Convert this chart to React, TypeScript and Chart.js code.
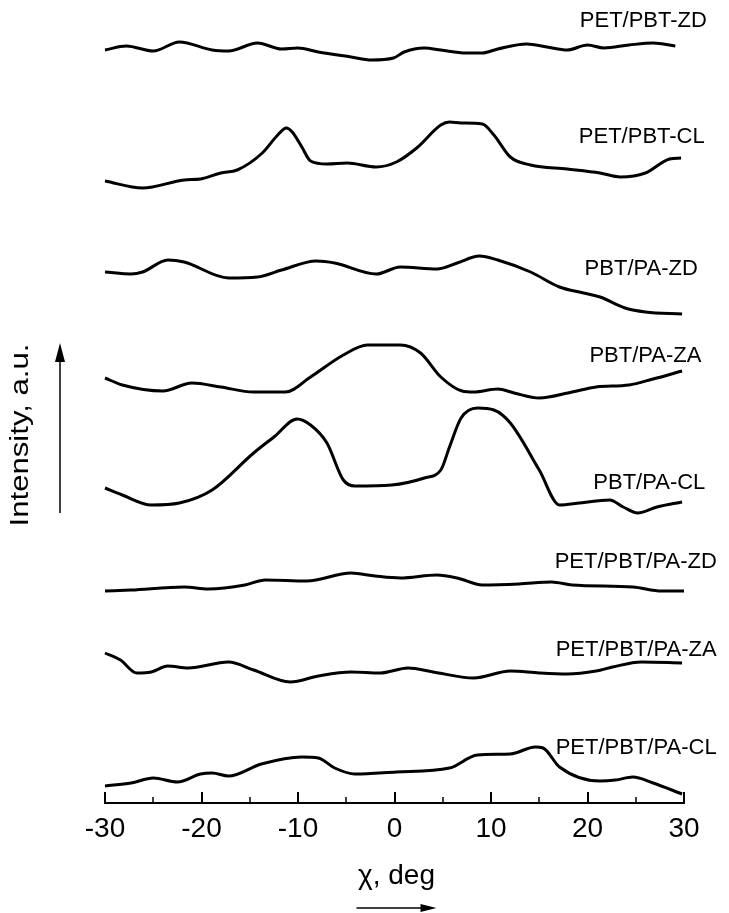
import React, { useEffect, useRef } from "react";
import { Chart, registerables } from "chart.js";

Chart.register(...registerables);

// ---- Axis / text ----
const X_MAJOR_TICKS = [-30, -20, -10, 0, 10, 20, 30];
const X_MINOR_TICKS = [-25, -15, -5, 5, 15, 25];
const X_TITLE = "χ, deg";
const Y_TITLE = "Intensity, a.u.";

const SERIES_NAMES = [
  "PET/PBT-ZD",
  "PET/PBT-CL",
  "PBT/PA-ZD",
  "PBT/PA-ZA",
  "PBT/PA-CL",
  "PET/PBT/PA-ZD",
  "PET/PBT/PA-ZA",
  "PET/PBT/PA-CL",
];

// ---- Series data (chi in deg, intensity in a.u., curves stacked with offsets) ----
const PETPBT_ZD_CHI = [-30, -27.8, -25, -22.3, -18.9, -17.2, -14.2, -11.7, -10, -7.9, -4.5, -2.4, -0.1, 1.0, 3.1, 4.8, 7.4, 9.1, 10.7, 13.7, 15.8, 17.9, 20, 21.7, 24.3, 26.8, 29.1];
const PETPBT_ZD_I = [753, 757, 752, 761, 753, 752, 760, 754, 755, 751, 746, 743, 745, 751, 755, 753, 750, 750, 754, 759, 756, 753, 758, 755, 758, 760, 757];

const PETPBT_CL_CHI = [-30, -26.1, -21.8, -20.1, -18, -16.3, -13.7, -12.1, -11.2, -10.6, -9.6, -8.7, -7.0, -4.9, -1.9, 0.2, 2.3, 4.8, 5.7, 6.9, 9.1, 10.3, 12.0, 14.1, 17.9, 21.3, 23.4, 26.0, 28.5, 29.7];
const PETPBT_CL_I = [622, 615, 623, 624, 630, 633, 650, 668, 675, 671, 656, 642, 639, 640, 636, 641, 655, 678, 681, 680, 679, 668, 646, 638, 634, 630, 626, 630, 644, 645];

const PBTPA_ZD_CHI = [-30, -27.3, -26.1, -23.5, -21.8, -17.2, -14.2, -11.7, -8.1, -6.2, -1.9, 0.6, 4.4, 6.5, 8.8, 10.7, 14.1, 17.1, 19.6, 21.3, 23.9, 26.0, 29.8];
const PBTPA_ZD_I = [531, 529, 531, 543, 541, 525, 526, 533, 542, 540, 529, 536, 534, 540, 547, 543, 531, 516, 510, 506, 495, 491, 489];

const PBTPA_ZA_CHI = [-30, -28.2, -24, -21, -18, -14.6, -11.3, -8.7, -5.3, -2.8, 0.6, 2.7, 4.8, 7.0, 8.2, 10.7, 12.4, 15.0, 18.4, 20.9, 24.3, 26.8, 29.8];
const PBTPA_ZA_I = [425, 418, 412, 420, 416, 411, 411, 426, 448, 458, 458, 450, 426, 412, 411, 414, 410, 405, 411, 416, 418, 424, 432];

const PBTPA_CL_CHI = [-30, -28.2, -25.2, -22.3, -18.9, -14.6, -12.5, -10.1, -8.7, -7.0, -5.3, -4.1, -0.3, 3.1, 4.8, 5.7, 6.9, 8.6, 10.3, 12.0, 15.0, 17.1, 19.2, 22.3, 23.7, 25.2, 27.2, 29.8];
const PBTPA_CL_I = [315, 308, 298, 300, 313, 350, 366, 384, 378, 360, 323, 317, 318, 325, 333, 356, 385, 395, 393, 380, 333, 298, 300, 303, 296, 290, 296, 301];

const PETPBTPA_ZD_CHI = [-30, -27.3, -21.8, -19.3, -15.5, -13.4, -9.1, -4.5, -2.0, 0.6, 4.4, 6.5, 9.1, 12.9, 16.3, 18.4, 24.7, 27.7, 30];
const PETPBTPA_ZD_I = [212, 213, 216, 214, 218, 223, 222, 230, 227, 225, 228, 225, 218, 219, 221, 218, 216, 212, 212];

const PETPBTPA_ZA_CHI = [-30, -28.4, -26.7, -25.2, -23.5, -21.4, -17.2, -14.6, -10.8, -7.9, -4.5, -1.5, 1.4, 4.0, 8.2, 12.0, 15.0, 17.9, 20.9, 22.6, 25.6, 29.8];
const PETPBTPA_ZA_I = [150, 143, 130, 131, 137, 135, 141, 133, 121, 127, 131, 130, 135, 131, 125, 132, 130, 129, 132, 136, 141, 140];

const PETPBTPA_CL_CHI = [-30, -27.3, -25, -22.5, -20.1, -18.9, -17.2, -13.8, -9.6, -7.9, -6.2, -4.1, 0.2, 5.7, 8.6, 12.0, 14.6, 15.4, 17.1, 21.3, 22.9, 24.7, 26.8, 29.8];
const PETPBTPA_CL_I = [17, 20, 25, 21, 29, 30, 27, 39, 46, 45, 35, 29, 31, 35, 48, 49, 56, 55, 36, 22, 23, 26, 20, 9];

const SERIES_CHI = [PETPBT_ZD_CHI, PETPBT_CL_CHI, PBTPA_ZD_CHI, PBTPA_ZA_CHI, PBTPA_CL_CHI, PETPBTPA_ZD_CHI, PETPBTPA_ZA_CHI, PETPBTPA_CL_CHI];
const SERIES_I = [PETPBT_ZD_I, PETPBT_CL_I, PBTPA_ZD_I, PBTPA_ZA_I, PBTPA_CL_I, PETPBTPA_ZD_I, PETPBTPA_ZA_I, PETPBTPA_CL_I];

// ---- Layout (label anchors in data coordinates: left edge, vertical middle) ----
const LABEL_CHI = [19.2, 19.1, 19.7, 20.2, 20.6, 16.6, 16.7, 16.7];
const LABEL_I = [782, 666, 534, 447, 320, 241, 153, 55];

const Y_MIN = 0;
const Y_MAX = 803;
const X_MIN = -30;
const X_MAX = 30;

const FONT = "'Liberation Sans', Arial, Helvetica, sans-serif";

const decorPlugin = {
  id: "decor",
  afterDraw(chart: any) {
    const ctx = chart.ctx as CanvasRenderingContext2D;
    const xs = chart.scales.x;
    const ys = chart.scales.y;
    const y0 = ys.getPixelForValue(0);
    const xl = xs.getPixelForValue(X_MIN);
    const xr = xs.getPixelForValue(X_MAX);
    ctx.save();
    ctx.strokeStyle = "#000";
    ctx.fillStyle = "#000";
    // axis line
    ctx.lineWidth = 2;
    ctx.beginPath();
    ctx.moveTo(xl - 1, y0);
    ctx.lineTo(xr + 1, y0);
    ctx.stroke();
    // ticks (inward)
    ctx.lineWidth = 2;
    X_MAJOR_TICKS.forEach((v) => {
      const px = Math.round(xs.getPixelForValue(v));
      ctx.beginPath();
      ctx.moveTo(px, y0);
      ctx.lineTo(px, y0 - 11);
      ctx.stroke();
    });
    ctx.lineWidth = 1.5;
    X_MINOR_TICKS.forEach((v) => {
      const px = Math.round(xs.getPixelForValue(v));
      ctx.beginPath();
      ctx.moveTo(px, y0);
      ctx.lineTo(px, y0 - 6);
      ctx.stroke();
    });
    // tick labels
    ctx.font = `28px ${FONT}`;
    ctx.textAlign = "center";
    ctx.textBaseline = "alphabetic";
    X_MAJOR_TICKS.forEach((v) => {
      ctx.fillText(String(v), xs.getPixelForValue(v), y0 + 34);
    });
    // x title + arrow
    const cx = (xl + xr) / 2;
    ctx.fillText(X_TITLE, cx + 2, y0 + 81);
    const ay = y0 + 105;
    ctx.lineWidth = 1.5;
    ctx.beginPath();
    ctx.moveTo(cx - 38, ay);
    ctx.lineTo(cx + 30, ay);
    ctx.stroke();
    ctx.beginPath();
    ctx.moveTo(cx + 42, ay);
    ctx.lineTo(cx + 26, ay - 4);
    ctx.lineTo(cx + 26, ay + 4);
    ctx.closePath();
    ctx.fill();
    // y title (rotated) + arrow
    ctx.save();
    ctx.translate(xl - 84, 435);
    ctx.rotate(-Math.PI / 2);
    ctx.font = `25px ${FONT}`;
    const w = ctx.measureText(Y_TITLE).width;
    ctx.scale(183 / w, 1);
    ctx.textAlign = "center";
    ctx.textBaseline = "middle";
    ctx.fillText(Y_TITLE, 0, 0);
    ctx.restore();
    const axx = xl - 45;
    ctx.lineWidth = 1.5;
    ctx.beginPath();
    ctx.moveTo(axx, 513);
    ctx.lineTo(axx, 358);
    ctx.stroke();
    ctx.beginPath();
    ctx.moveTo(axx, 343);
    ctx.lineTo(axx - 5, 362);
    ctx.lineTo(axx + 5, 362);
    ctx.closePath();
    ctx.fill();
    // series names
    ctx.font = `22px ${FONT}`;
    ctx.textAlign = "left";
    ctx.textBaseline = "middle";
    SERIES_NAMES.forEach((name, i) => {
      ctx.fillText(name, xs.getPixelForValue(LABEL_CHI[i]), ys.getPixelForValue(LABEL_I[i]));
    });
    ctx.restore();
  },
};

export default function App() {
  const ref = useRef<HTMLCanvasElement | null>(null);
  useEffect(() => {
    if (!ref.current) return;
    const datasets = SERIES_NAMES.map((name, i) => ({
      label: name,
      data: SERIES_CHI[i].map((x, j) => ({ x, y: SERIES_I[i][j] })),
      borderColor: "#000",
      borderWidth: 3,
      pointRadius: 0,
      fill: false,
      cubicInterpolationMode: "monotone" as const,
      clip: false as any,
    }));
    const chart = new Chart(ref.current, {
      type: "line",
      data: { datasets },
      options: {
        responsive: false,
        maintainAspectRatio: false,
        animation: false,
        layout: { padding: { left: 105, right: 45, top: 0, bottom: 110 } },
        scales: {
          x: { type: "linear", min: X_MIN, max: X_MAX, display: false },
          y: { type: "linear", min: Y_MIN, max: Y_MAX, display: false },
        },
        plugins: { legend: { display: false }, tooltip: { enabled: false } },
      },
      plugins: [decorPlugin],
    });
    return () => chart.destroy();
  }, []);
  return (
    <div style={{ position: "absolute", left: 0, top: 0, width: 729, height: 913, background: "#fff" }}>
      <canvas ref={ref} width={729} height={913} style={{ display: "block" }} />
    </div>
  );
}
